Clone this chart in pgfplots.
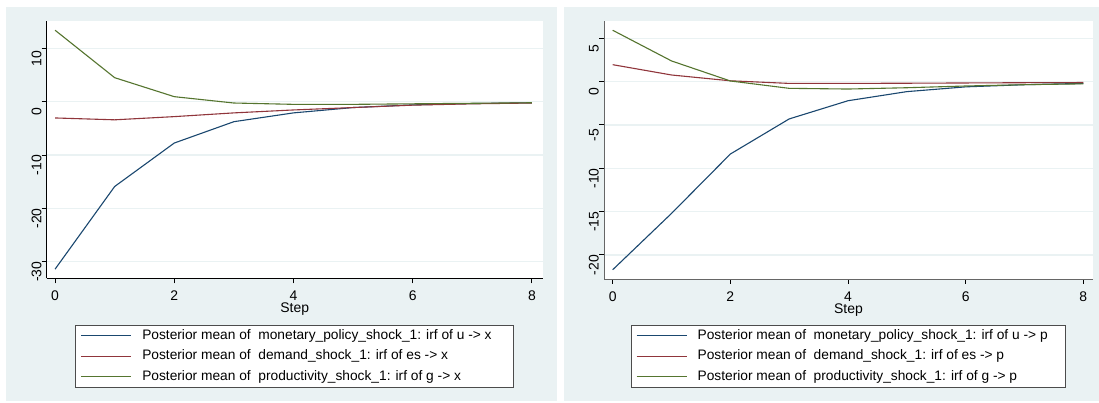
\documentclass[border=0pt]{standalone}
\usepackage{pgfplots}
\pgfplotsset{compat=1.18}
\usepackage{fontspec}
\setmainfont{Liberation Sans}
\definecolor{bgc}{HTML}{EAF2F3}
\definecolor{gridc}{HTML}{EAF2F3}
\definecolor{c1}{HTML}{1A476F}
\definecolor{c2}{HTML}{90353B}
\definecolor{c3}{HTML}{55752F}
\pgfplotsset{
  stata/.style={
    scale only axis,
    axis x line*=bottom, axis y line*=left,
    axis line style={line width=1bp, black},
    axis background/.style={fill=white},
    tick align=outside, major tick length=5bp,
    tick style={line width=1bp, black},
    xtick={0,2,4,6,8},
    ymajorgrids, grid style={line width=1.2bp, color=gridc},
    every tick label/.append style={font=\fontsize{14}{16}\selectfont},
    /pgf/number format/assume math mode=true,
    yticklabel style={rotate=90, anchor=south, inner sep=0pt, xshift=-10bp},
    xticklabel style={anchor=north, inner sep=0pt, yshift=-7.4bp},
    xlabel={Step},
    xlabel style={font=\fontsize{14}{16}\selectfont, inner sep=0pt, yshift=-2bp},
    legend cell align=left,
    legend style={draw=black!70, line width=0.8bp, fill=white,
      inner xsep=5bp, inner ysep=3.5bp, column sep=10.5bp, row sep=6.5bp,
      font=\fontsize{13.8}{15}\selectfont,
      nodes={inner sep=0pt, text height=10.5bp, text depth=3.5bp},
      anchor=north},
    legend image code/.code={\draw[##1, line width=1bp] (0bp,0bp) -- (50bp,0bp);},
    every axis plot/.append style={line width=1.1bp, no markers},
  }
}
\begin{document}
\begin{tikzpicture}
\fill[white] (0bp,0bp) rectangle (1099bp,403bp);
\fill[bgc] (6bp,2bp) rectangle (556.7bp,396bp);
\fill[bgc] (564bp,2bp) rectangle (1099bp,396bp);
\begin{axis}[stata, at={(46.7bp,124.7bp)}, anchor=south west,
  width=496bp, height=257bp,
  xmin=-0.14, xmax=8.18, ymin=-33.11, ymax=15.07,
  ytick={-30,-20,-10,0,10},
  legend style={at={(0.4996,-0.1817)}}]
\addplot[c1] coordinates {(0,-31.4) (1,-15.9) (2,-7.75) (3,-3.75) (4,-2.1) (5,-1.1) (6,-0.6) (7,-0.35) (8,-0.2)};
\addlegendentry{\makebox[366bp][l]{Posterior mean of\ \ monetary\_policy\_shock\_1: irf of u -> x}}
\addplot[c2] coordinates {(0,-3.05) (1,-3.4) (2,-2.8) (3,-2.1) (4,-1.55) (5,-1.1) (6,-0.65) (7,-0.4) (8,-0.25)};
\addlegendentry{Posterior mean of\ \ demand\_shock\_1: irf of es -> x}
\addplot[c3] coordinates {(0,13.4) (1,4.5) (2,0.94) (3,-0.25) (4,-0.5) (5,-0.5) (6,-0.4) (7,-0.3) (8,-0.2)};
\addlegendentry{Posterior mean of\ \ productivity\_shock\_1: irf of g -> x}
\end{axis}
\begin{axis}[stata, at={(604bp,124bp)}, anchor=south west,
  width=489bp, height=258bp,
  xmin=-0.148, xmax=8.165, ymin=-22.77, ymax=7.0,
  ytick={-20,-15,-10,-5,0,5},
  axis line style={line width=1bp, black!60},
  legend style={at={(0.4997,-0.1783)}}]
\addplot[c1] coordinates {(0,-21.7) (1,-15.2) (2,-8.35) (3,-4.3) (4,-2.2) (5,-1.15) (6,-0.6) (7,-0.35) (8,-0.2)};
\addlegendentry{\makebox[363bp][l]{Posterior mean of\ \ monetary\_policy\_shock\_1: irf of u -> p}}
\addplot[c2] coordinates {(0,1.96) (1,0.77) (2,0.1) (3,-0.2) (4,-0.2) (5,-0.18) (6,-0.15) (7,-0.12) (8,-0.1)};
\addlegendentry{Posterior mean of\ \ demand\_shock\_1: irf of es -> p}
\addplot[c3] coordinates {(0,5.93) (1,2.39) (2,0.08) (3,-0.77) (4,-0.85) (5,-0.7) (6,-0.5) (7,-0.35) (8,-0.25)};
\addlegendentry{Posterior mean of\ \ productivity\_shock\_1: irf of g -> p}
\end{axis}
\end{tikzpicture}
\end{document}
